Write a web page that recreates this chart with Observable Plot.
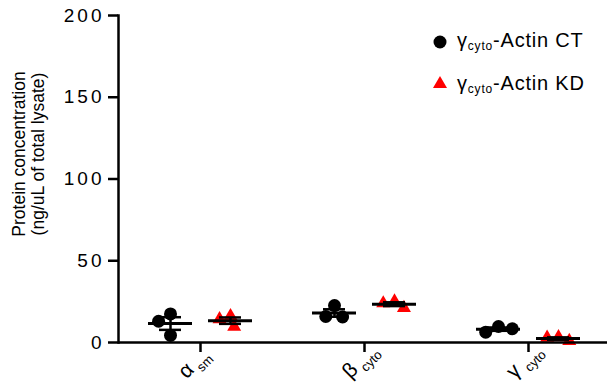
<!DOCTYPE html>
<html>
<head>
<meta charset="utf-8">
<script src="https://cdn.jsdelivr.net/npm/d3@7"></script>
<script src="https://cdn.jsdelivr.net/npm/@observablehq/plot@0.6"></script>
<style>
  body { margin: 0; background: #fff; }
  #chart { width: 607px; height: 390px; overflow: hidden; font-family: "Liberation Sans", Arial, sans-serif; }
</style>
</head>
<body>
<div id="chart"></div>
<script>
// Actin isoforms measured in control (CT) and knockdown (KD) lysates
const proteins = ["alpha-sm", "beta-cyto", "gamma-cyto"];
const proteinGreek = ["α", "β", "γ"];
const proteinSub = ["sm", "cyto", "cyto"];
const groups = ["CT", "KD"];
const groupNames = ["-Actin CT", "-Actin KD"];
// three replicates per isoform, ng/uL of total lysate
const ctValues = [[17.5, 13.0, 4.3], [22.6, 15.9, 15.6], [9.8, 6.3, 8.4]];
const kdValues = [[16.2, 14.3, 9.6], [25.1, 24.0, 21.2], [3.3, 3.0, 1.0]];
const yTicks = [0, 50, 100, 150, 200];

const rows = [];
proteins.forEach((p, i) => {
  ctValues[i].forEach(v => rows.push({protein: p, group: "CT", value: v}));
  kdValues[i].forEach(v => rows.push({protein: p, group: "KD", value: v}));
});
const ctRows = rows.filter(d => d.group === "CT");
const kdRows = rows.filter(d => d.group === "KD");

// mean ± SEM per isoform and condition
const summary = [];
proteins.forEach((p, i) => {
  [ctValues[i], kdValues[i]].forEach((vals, g) => {
    const m = d3.mean(vals);
    const sem = d3.deviation(vals) / Math.sqrt(vals.length);
    summary.push({protein: p, group: groups[g], mean: m, lo: m - sem, hi: m + sem});
  });
});

// within each isoform panel, the two conditions sit ±30px from the middle;
// dodged dots already receive half a band of offset from the x band scale
const halfBand = 22;

// rotated isoform labels: the subscript follows the Greek letter along the 45° baseline
const labelDx = -14, labelDy = 37;
const cos45 = Math.SQRT1_2;
const subAdvance = 16, subDrop = 6;

const plot = Plot.plot({
  width: 607,
  height: 390,
  marginTop: 15,
  marginBottom: 48,
  marginLeft: 117,
  marginRight: -3,
  style: {fontFamily: "'Liberation Sans', Arial, sans-serif", fontSize: "19px", color: "black", background: "white", overflow: "hidden"},
  fx: {domain: proteins, padding: 0},
  x: {domain: groups, paddingInner: 0.267, paddingOuter: 0.495, axis: null},
  y: {domain: [0, 200], axis: null},
  marks: [
    Plot.frame({anchor: "left", facetAnchor: "left", stroke: "black", strokeWidth: 2.5}),
    Plot.axisY({ticks: yTicks, tickSize: 10, tickPadding: 4, strokeWidth: 2.5, label: null, fontSize: 19}),
    Plot.axisFx({anchor: "bottom", tickSize: 10, strokeWidth: 2.5, label: null, tickFormat: () => ""}),
    Plot.text(proteins, {fx: d => d, text: (d, i) => proteinGreek[i], frameAnchor: "bottom", rotate: -45,
      textAnchor: "start", dx: labelDx, dy: labelDy, fontSize: 21}),
    Plot.text(proteins, {fx: d => d, text: (d, i) => proteinSub[i], frameAnchor: "bottom", rotate: -45,
      textAnchor: "start", fontSize: 13,
      dx: labelDx + (subAdvance + subDrop) * cos45, dy: labelDy - (subAdvance - subDrop) * cos45}),
    Plot.dot(ctRows, Plot.dodgeX("middle", {fx: "protein", y: "value", r: 6.5, padding: -1.5, fill: "black", dx: -30 - halfBand})),
    Plot.dot(kdRows, Plot.dodgeX("middle", {fx: "protein", y: "value", r: 5.2, padding: -1, symbol: "triangle", fill: "#ff0000", dx: 30 - halfBand})),
    Plot.ruleX(summary, {fx: "protein", x: "group", y1: "lo", y2: "hi", stroke: "black", strokeWidth: 2.5}),
    Plot.tickY(summary, {fx: "protein", x: "group", y: "hi", stroke: "black", strokeWidth: 2.5, insetLeft: 11, insetRight: 11}),
    Plot.tickY(summary, {fx: "protein", x: "group", y: "lo", stroke: "black", strokeWidth: 2.5, insetLeft: 11, insetRight: 11}),
    Plot.tickY(summary, {fx: "protein", x: "group", y: "mean", stroke: "black", strokeWidth: 3}),
    Plot.ruleY([0], {stroke: "black", strokeWidth: 2.5})
  ]
});
document.getElementById("chart").appendChild(plot);

const svg = d3.select(plot);

// y tick labels: slightly spaced digits
svg.selectAll('[aria-label="y-axis tick label"] text').attr("letter-spacing", 3);

// y-axis title, two lines
const yl = svg.append("text")
  .attr("transform", "translate(25,154) rotate(-90)")
  .attr("text-anchor", "middle")
  .attr("font-size", 17.5)
  .attr("fill", "black");
yl.append("tspan").attr("x", 0).attr("dy", 0).text("Protein concentration");
yl.append("tspan").attr("x", 0).attr("dy", 19).text("(ng/uL of total lysate)");

// legend
const legend = svg.append("g").attr("text-anchor", "start");
const entries = [
  {y: 42, ty: 47, shape: d3.symbolCircle, size: Math.PI * 6.5 * 6.5, color: "black"},
  {y: 84, ty: 90, shape: d3.symbolTriangle, size: Math.PI * 5.2 * 5.2, color: "#ff0000"}
];
entries.forEach((e, k) => {
  legend.append("path")
    .attr("transform", `translate(440,${e.y})`)
    .attr("d", d3.symbol(e.shape, e.size)())
    .attr("fill", e.color);
  const t = legend.append("text")
    .attr("x", 457).attr("y", e.ty)
    .attr("font-size", 20).attr("letter-spacing", 0.8).attr("fill", "black");
  t.append("tspan").text("γ");
  t.append("tspan").attr("font-size", 12).attr("dy", 3).text("cyto");
  t.append("tspan").attr("dy", -3).text(groupNames[k]);
});
</script>
</body>
</html>
